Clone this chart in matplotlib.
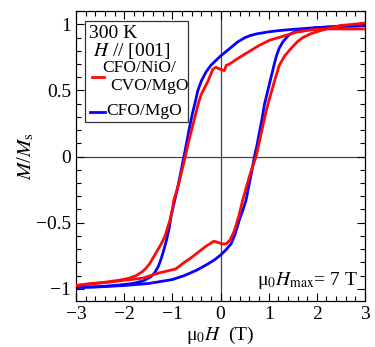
import matplotlib
matplotlib.use('Agg')
import matplotlib.pyplot as plt
from matplotlib.ticker import MultipleLocator
from matplotlib.patches import Rectangle

plt.rcParams['font.family'] = ['Liberation Serif', 'DejaVu Serif']
plt.rcParams['mathtext.fontset'] = 'stix'

# CFO/MgO, field decreasing (+3 -> -3)
blue_dn_x = [3.0, 2.5, 2.0, 1.5, 1.2, 1.0, 0.75, 0.6, 0.5, 0.35, 0.2, 0.1, 0.0, -0.1, -0.2,
             -0.3, -0.4, -0.47, -0.52, -0.58, -0.65, -0.7, -0.76, -0.82, -0.88, -0.95, -1.02,
             -1.07, -1.12, -1.18, -1.23, -1.29, -1.37, -1.45, -1.6, -1.83, -2.2, -2.6, -3.0]
blue_dn_y = [0.99, 0.985, 0.975, 0.962, 0.952, 0.943, 0.928, 0.913, 0.898, 0.865, 0.82, 0.79,
             0.76, 0.725, 0.69, 0.64, 0.57, 0.50, 0.42, 0.33, 0.21, 0.11, 0.0, -0.11, -0.22,
             -0.33, -0.44, -0.55, -0.63, -0.71, -0.77, -0.83, -0.88, -0.91, -0.94, -0.96,
             -0.975, -0.985, -0.99]
# CFO/MgO, field increasing (-3 -> +3)
blue_up_x = [-3.0, -2.5, -2.0, -1.5, -1.0, -0.75, -0.5, -0.3, -0.12, 0.0, 0.1, 0.22, 0.3,
             0.39, 0.46, 0.53, 0.6, 0.65, 0.705, 0.76, 0.8, 0.86, 0.91, 0.97, 1.03, 1.11,
             1.16, 1.22, 1.3, 1.42, 1.55, 1.7, 2.0, 2.5, 3.0]
blue_up_y = [-0.99, -0.985, -0.975, -0.96, -0.93, -0.90, -0.86, -0.82, -0.78, -0.745, -0.71,
             -0.66, -0.59, -0.48, -0.41, -0.33, -0.2, -0.11, 0.0, 0.09, 0.17, 0.28, 0.39,
             0.48, 0.57, 0.69, 0.76, 0.82, 0.87, 0.92, 0.945, 0.96, 0.975, 0.985, 0.99]
# CFO/NiO/CVO/MgO, field decreasing
red_dn_x = [3.0, 2.5, 2.2, 1.91, 1.57, 1.3, 1.02, 0.8, 0.53, 0.35, 0.19, 0.12, 0.08, 0.0,
            -0.1, -0.16, -0.26, -0.33, -0.40, -0.47, -0.53, -0.6, -0.67, -0.73, -0.79,
            -0.85, -0.91, -0.97, -1.0, -1.05, -1.1, -1.15, -1.23, -1.31, -1.39, -1.47,
            -1.55, -1.62, -1.75, -1.90, -2.1, -2.3, -2.59, -3.0]
red_dn_y = [0.965, 0.965, 0.965, 0.96, 0.94, 0.91, 0.88, 0.84, 0.78, 0.74, 0.70, 0.69, 0.65,
            0.66, 0.675, 0.66, 0.57, 0.52, 0.47, 0.39, 0.30, 0.2, 0.10, 0.0, -0.09, -0.18,
            -0.26, -0.33, -0.40, -0.48, -0.54, -0.60, -0.66, -0.71, -0.76, -0.81, -0.845,
            -0.87, -0.90, -0.92, -0.935, -0.945, -0.96, -0.975]
# CFO/NiO/CVO/MgO, field increasing
red_up_x = [-3.0, -2.7, -2.32, -2.0, -1.62, -1.45, -1.28, -1.1, -0.93, -0.75, -0.59, -0.45,
            -0.31, -0.2, -0.14, -0.05, 0.03, 0.12, 0.2, 0.29, 0.38, 0.46, 0.53, 0.6, 0.67,
            0.74, 0.8, 0.86, 0.92, 0.98, 1.05, 1.12, 1.22, 1.33, 1.47, 1.6, 1.71, 1.88,
            2.05, 2.25, 2.47, 2.75, 3.0]
red_up_y = [-0.975, -0.96, -0.95, -0.935, -0.92, -0.90, -0.88, -0.865, -0.85, -0.80, -0.76,
            -0.72, -0.68, -0.655, -0.64, -0.65, -0.66, -0.66, -0.63, -0.56, -0.45, -0.33,
            -0.24, -0.15, -0.07, 0.0, 0.10, 0.2, 0.30, 0.39, 0.48, 0.57, 0.69, 0.76, 0.82,
            0.87, 0.90, 0.93, 0.95, 0.97, 0.99, 1.0, 1.01]

fig = plt.figure(figsize=(3.75, 3.47), dpi=100)
ax = fig.add_axes([0.2027, 0.1334, 0.7706, 0.8346])

ax.axhline(0, color='#444444', lw=0.9, zorder=1)
ax.axvline(0, color='#444444', lw=0.9, zorder=1)

lw = 2.0
ax.plot(blue_dn_x, blue_dn_y, color='#0a00ff', lw=lw, zorder=2)
ax.plot(blue_up_x, blue_up_y, color='#0a00ff', lw=lw, zorder=2)
ax.plot(red_dn_x, red_dn_y, color='#ff0a0a', lw=lw, zorder=3)
ax.plot(red_up_x, red_up_y, color='#ff0a0a', lw=lw, zorder=3)

ax.set_xlim(-3, 3)
ax.set_ylim(-1.09, 1.10)
ax.xaxis.set_major_locator(MultipleLocator(1))
ax.xaxis.set_minor_locator(MultipleLocator(0.2))
ax.yaxis.set_minor_locator(MultipleLocator(0.1))
ax.set_yticks([-1, -0.5, 0, 0.5, 1])
ax.set_yticklabels(['\u22121', '\u22120.5', '0', '0.5', '1'])
ax.tick_params(which='both', direction='in', top=True, right=True, labelsize=14)
ax.tick_params(which='major', length=6, width=0.8)
ax.tick_params(which='minor', length=3.5, width=0.8)
for s in ax.spines.values():
    s.set_linewidth(0.9)

ax.set_xlabel('\u03bc$_0$$H$  (T)', fontsize=14, labelpad=2)
ax.set_ylabel('$M$/$M_{\\rm s}$', fontsize=15, labelpad=0)

# legend box drawn by hand
ax.add_patch(Rectangle((0.031, 0.617), 0.357, 0.349, transform=ax.transAxes,
                       fill=False, ec='#333333', lw=0.9, zorder=5))
ax.text(0.045, 0.908, '300 K', transform=ax.transAxes, fontsize=14, zorder=6)
ax.text(0.060, 0.845, '$H$ // [001]', transform=ax.transAxes, fontsize=14, zorder=6)
ax.text(0.092, 0.790, 'CFO/NiO/', transform=ax.transAxes, fontsize=12.5, zorder=6)
ax.text(0.120, 0.727, 'CVO/MgO', transform=ax.transAxes, fontsize=12.5, zorder=6)
ax.plot([0.054, 0.097], [0.773, 0.773], transform=ax.transAxes, color='#ff0a0a', lw=lw)
ax.plot([0.048, 0.100], [0.652, 0.652], transform=ax.transAxes, color='#0a00ff', lw=lw)
ax.text(0.103, 0.641, 'CFO/MgO', transform=ax.transAxes, fontsize=12.5, zorder=6)

ax.text(0.975, 0.054, '\u03bc$_0$$H_{\\rm max}$= 7 T', transform=ax.transAxes,
        fontsize=14, ha='right')

fig.savefig('out.png', dpi=100)
